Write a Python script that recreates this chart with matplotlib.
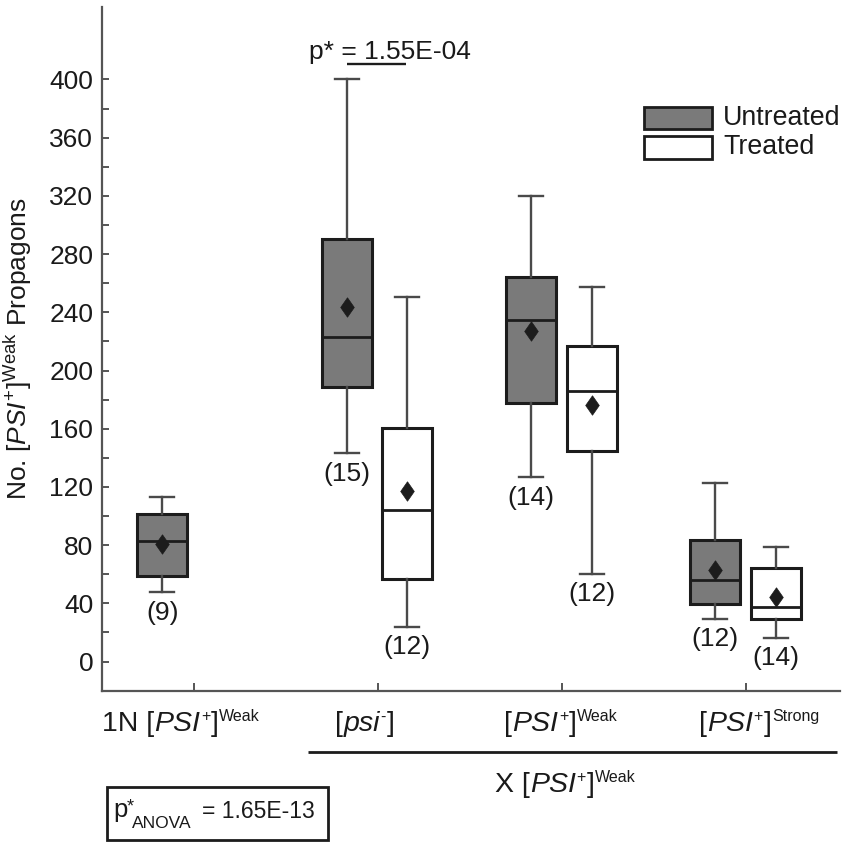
import matplotlib
matplotlib.use('Agg')
import matplotlib.pyplot as plt
from matplotlib.patches import Rectangle
from matplotlib.transforms import blended_transform_factory, ScaledTranslation

plt.rcParams['font.family'] = ['Liberation Sans', 'DejaVu Sans']
plt.rcParams['mathtext.fontset'] = 'custom'
plt.rcParams['mathtext.rm'] = 'Liberation Sans'
plt.rcParams['mathtext.it'] = 'Liberation Sans:italic'
plt.rcParams['mathtext.bf'] = 'Liberation Sans:bold'
plt.rcParams['mathtext.sf'] = 'Liberation Sans'

# ---------------- data ----------------
# category labels as rich-text pieces: (text, kind) kind: 'n' normal, 'i' italic, 's' superscript
categories = [
    [('1N [', 'n'), ('PSI', 'i'), ('+', 's'), (']', 'n'), ('Weak', 's')],
    [('[', 'n'), ('psi', 'i'), ('-', 's'), (']', 'n')],
    [('[', 'n'), ('PSI', 'i'), ('+', 's'), (']', 'n'), ('Weak', 's')],
    [('[', 'n'), ('PSI', 'i'), ('+', 's'), (']', 'n'), ('Strong', 's')],
]
xgroup_label = [('X [', 'n'), ('PSI', 'i'), ('+', 's'), (']', 'n'), ('Weak', 's')]
group_x = [0, 1, 2, 3]

# Untreated (all four groups)
untreated_med = [83, 223, 234.5, 56]
untreated_q1 = [59, 188.5, 177.5, 39.5]
untreated_q3 = [101.5, 290.5, 264.5, 83.5]
untreated_lo = [48, 143, 126.5, 29.5]
untreated_hi = [113, 400, 320, 123]
untreated_mean = [81, 243.5, 227, 63]
untreated_n = [9, 15, 14, 12]

# Treated (groups 2-4)
treated_groups = [1, 2, 3]
treated_med = [104.5, 186, 37.5]
treated_q1 = [57, 144.5, 29.5]
treated_q3 = [160.5, 217, 64]
treated_lo = [24, 60.5, 16.5]
treated_hi = [250.5, 257.5, 78.5]
treated_mean = [117, 176, 44.5]
treated_n = [12, 12, 14]

yticks_major = [0, 40, 80, 120, 160, 200, 240, 280, 320, 360, 400]
yticks_minor = [20, 60, 100, 140, 180, 220, 260, 300, 340, 380]

p_pair = 'p* = 1.55E-04'
p_anova_value = '= 1.65E-13'
legend_labels = ['Untreated', 'Treated']
ylabel = r'No. $[\mathit{PSI}^{+}]^{\mathrm{Weak}}$ Propagons'

# ---------------- style ----------------
FS = 19
FS_MAIN = 20.5
FS_SUP = 11.5
SUP_RISE = 7.2
C_FILL = '#7a7a7a'
C_EDGE = '#1c1c1c'
C_WHISK = '#4a4a4a'
C_AX = '#555555'
C_TXT = '#1a1a1a'
DIAMOND = [(0, 1), (0.7, 0), (0, -1), (-0.7, 0), (0, 1)]

W, H = 851, 848
fig = plt.figure(figsize=(W / 100, H / 100), dpi=100)
ax = fig.add_axes([102.3 / W, 1 - 690.7 / H, (840 - 102.3) / W, (690.7 - 6.7) / H])
renderer = fig.canvas.get_renderer()


def rich(x, y, transform, pieces, ha='center', gap=0.6):
    specs = []
    for s, kind in pieces:
        fs = FS_SUP if kind == 's' else FS_MAIN
        st = 'italic' if kind == 'i' else 'normal'
        dy = SUP_RISE if kind == 's' else 0
        specs.append((s, fs, st, dy))
    widths = []
    for s, fs, st, dy in specs:
        t = fig.text(0, 0, s, fontsize=fs, style=st)
        widths.append(t.get_window_extent(renderer).width)
        t.remove()
    total = sum(widths) + gap * (len(specs) - 1)
    cur = -total / 2 if ha == 'center' else 0.0
    for (s, fs, st, dy), w in zip(specs, widths):
        tr = transform + ScaledTranslation(cur / fig.dpi, dy / 72, fig.dpi_scale_trans)
        ax.text(x, y, s, transform=tr, ha='left', va='baseline', fontsize=fs, style=st,
                color=C_TXT, clip_on=False)
        cur += w + gap


def stats(med, q1, q3, lo, hi, mean):
    return [dict(med=m, q1=a, q3=b, whislo=l, whishi=h, mean=mu, fliers=[])
            for m, a, b, l, h, mu in zip(med, q1, q3, lo, hi, mean)]


u_pos = [g - 0.17 for g in group_x]
t_pos = [group_x[g] + 0.16 for g in treated_groups]
BW = 0.271

common = dict(widths=BW, patch_artist=True, showmeans=True, showfliers=False,
              capwidths=0.13,
              medianprops=dict(color=C_EDGE, linewidth=2.0),
              whiskerprops=dict(color=C_WHISK, linewidth=1.7),
              capprops=dict(color=C_WHISK, linewidth=1.7),
              meanprops=dict(marker=DIAMOND, markerfacecolor=C_EDGE,
                             markeredgecolor=C_EDGE, markersize=14, markeredgewidth=0.5))

ax.bxp(stats(untreated_med, untreated_q1, untreated_q3, untreated_lo, untreated_hi, untreated_mean),
       positions=u_pos, boxprops=dict(facecolor=C_FILL, edgecolor=C_EDGE, linewidth=2.2), **common)
ax.bxp(stats(treated_med, treated_q1, treated_q3, treated_lo, treated_hi, treated_mean),
       positions=t_pos, boxprops=dict(facecolor='white', edgecolor=C_EDGE, linewidth=2.2), **common)

for p, lo, n in zip(u_pos, untreated_lo, untreated_n):
    ax.annotate(f'({n})', xy=(p, lo), xytext=(0, -15), textcoords='offset points',
                ha='center', va='center', fontsize=FS, color=C_TXT)
for p, lo, n in zip(t_pos, treated_lo, treated_n):
    ax.annotate(f'({n})', xy=(p, lo), xytext=(0, -15), textcoords='offset points',
                ha='center', va='center', fontsize=FS, color=C_TXT)

# axes
ax.set_xlim(-0.496, 3.508)
ax.set_ylim(-20, 450)
for s in ['top', 'right']:
    ax.spines[s].set_visible(False)
for s in ['left', 'bottom']:
    ax.spines[s].set_color(C_AX)
    ax.spines[s].set_linewidth(1.6)
ax.set_yticks(yticks_major)
ax.set_yticks(yticks_minor, minor=True)
ax.tick_params(axis='y', which='both', direction='in', length=5, width=1.4, color=C_AX,
               labelsize=FS, labelcolor=C_TXT, pad=6.5)
ax.set_xticks(group_x)
ax.set_xticklabels([''] * len(group_x))
ax.tick_params(axis='x', which='both', direction='in', length=6, width=1.4, color=C_AX)

ax.set_ylabel(ylabel, fontsize=FS, color=C_TXT, va='center')
ax.yaxis.set_label_coords(-0.1143, 0.5)

# category labels below the axis
bt = blended_transform_factory(ax.transData, ax.transAxes)
label_x = [-0.0705, 0.928, 1.994, 3.068]
for x, pieces in zip(label_x, categories):
    rich(x, -0.0596, bt, pieces)

# group bracket line and label
ax.plot([0.62, 3.49], [-0.0896, -0.0896], transform=bt, color=C_EDGE, lw=2.0,
        clip_on=False, solid_capstyle='butt')
rich(2.016, -0.1477, bt, xgroup_label)

# pairwise p-value
ax.plot([u_pos[1], t_pos[0] - 0.005], [410.3, 410.3], color=C_EDGE, lw=1.7,
        solid_capstyle='butt')
ax.text(1.066, 414.2, p_pair, ha='center', va='baseline', fontsize=FS, color=C_TXT)

# legend (manual)
ax.add_patch(Rectangle((0.7343, 0.8207), 0.0917, 0.0324, transform=ax.transAxes,
                       facecolor=C_FILL, edgecolor=C_EDGE, lw=2.0, clip_on=False))
ax.add_patch(Rectangle((0.7343, 0.7775), 0.0917, 0.0335, transform=ax.transAxes,
                       facecolor='white', edgecolor=C_EDGE, lw=2.0, clip_on=False))
ax.text(0.8413, 0.8373, legend_labels[0], transform=ax.transAxes, ha='left', va='center',
        fontsize=FS + 0.3, color=C_TXT)
ax.text(0.8413, 0.7949, legend_labels[1], transform=ax.transAxes, ha='left', va='center',
        fontsize=FS + 0.3, color=C_TXT)

# ANOVA box
fig.add_artist(Rectangle((107.3 / W, 1 - 840 / H), 221 / W, 53.3 / H, transform=fig.transFigure,
                         facecolor='none', edgecolor=C_EDGE, lw=2.0))
fig.text(113 / W, 1 - 816.5 / H, 'p', ha='left', va='baseline', fontsize=18.5, color=C_TXT)
fig.text(126.5 / W, 1 - 811 / H, '*', ha='left', va='baseline', fontsize=13, color=C_TXT)
fig.text(131.7 / W, 1 - 828.3 / H, 'ANOVA', ha='left', va='baseline', fontsize=12.5, color=C_TXT)
fig.text(201.7 / W, 1 - 817.5 / H, p_anova_value, ha='left', va='baseline', fontsize=16.5,
         color=C_TXT)

fig.savefig('out.png', dpi=100, facecolor='white')
